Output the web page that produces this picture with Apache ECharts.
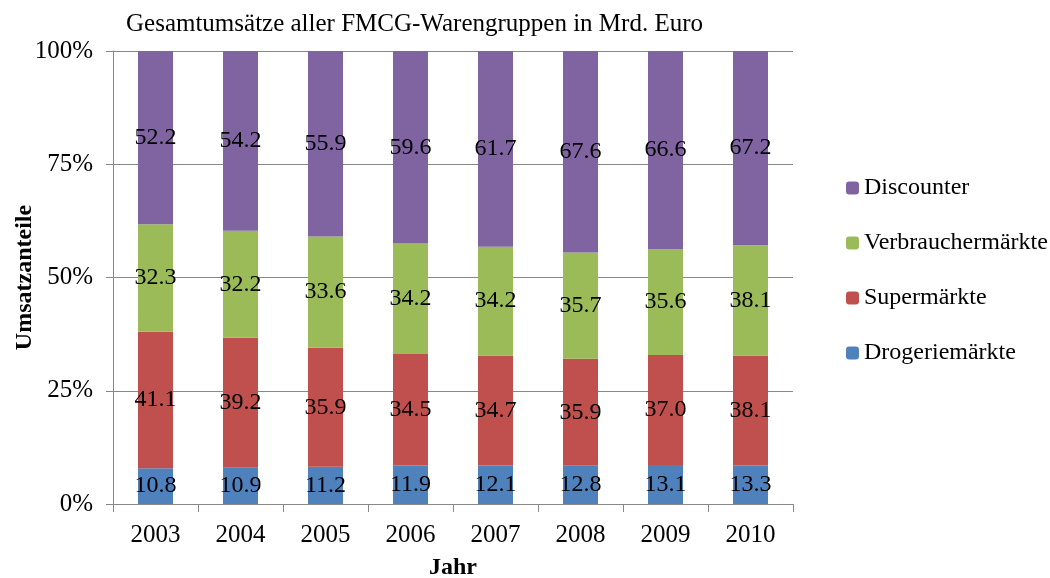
<!DOCTYPE html>
<html><head><meta charset="utf-8">
<script src="https://cdn.jsdelivr.net/npm/echarts@6/dist/echarts.min.js"></script>
<style>html,body{margin:0;padding:0;background:#fff}#c{width:1050px;height:578px}</style>
</head><body><div id="c"></div>
<script>
var years = ['2003','2004','2005','2006','2007','2008','2009','2010'];
var drogeriemaerkte = [10.8,10.9,11.2,11.9,12.1,12.8,13.1,13.3];
var supermaerkte = [41.1,39.2,35.9,34.5,34.7,35.9,37.0,38.1];
var verbrauchermaerkte = [32.3,32.2,33.6,34.2,34.2,35.7,35.6,38.1];
var discounter = [52.2,54.2,55.9,59.6,61.7,67.6,66.6,67.2];
var yTicks = ['0%','25%','50%','75%','100%'];

var totals = years.map(function(_, i){return drogeriemaerkte[i]+supermaerkte[i]+verbrauchermaerkte[i]+discounter[i];});
function share(arr){return arr.map(function(v,i){return {value: v/totals[i]*100, raw: v};});}
var font = '"Liberation Serif","Times New Roman",serif';
function mk(name, arr, color){
  return {name:name, type:'bar', stack:'s', barWidth:35, data:share(arr),
    itemStyle:{color:color},
    label:{show:true, position:'inside', fontFamily:font, fontSize:24, color:'#000',
      formatter:function(p){return p.data.raw.toFixed(1);}}};
}
var chart = echarts.init(document.getElementById('c'));
chart.setOption({
  animation:false,
  title:{text:'Gesamtumsätze aller FMCG-Warengruppen in Mrd. Euro', left:121, top:7,
    textStyle:{fontFamily:font, fontSize:25, fontWeight:'normal', color:'#000'}},
  grid:{left:113, right:257, top:51, bottom:74, containLabel:false, outerBoundsMode:'none'},
  legend:{orient:'vertical', left:841, top:171, itemWidth:13, itemHeight:13, itemGap:31,
    data:['Discounter','Verbrauchermärkte','Supermärkte','Drogeriemärkte'],
    textStyle:{fontFamily:font, fontSize:24, color:'#000'}},
  xAxis:{type:'category', data:years, name:'Jahr', nameLocation:'middle', nameGap:52, nameMoveOverlap:false,
    nameTextStyle:{fontFamily:font, fontSize:24, fontWeight:'bold', color:'#000'},
    axisLine:{lineStyle:{color:'#888'}},
    axisTick:{show:true, length:8, lineStyle:{color:'#888'}},
    axisLabel:{fontFamily:font, fontSize:25, color:'#000', margin:19}},
  yAxis:{type:'value', min:0, max:100, interval:25, name:'Umsatzanteile', nameLocation:'middle', nameGap:76, nameMoveOverlap:false,
    nameTextStyle:{fontFamily:font, fontSize:24, fontWeight:'bold', color:'#000'},
    axisLine:{show:true, lineStyle:{color:'#888'}},
    axisTick:{show:true, length:7, lineStyle:{color:'#888'}},
    splitLine:{lineStyle:{color:'#888'}},
    axisLabel:{fontFamily:font, fontSize:25, color:'#000', margin:20,
      formatter:function(v){return yTicks[Math.round(v/25)];}}},
  series:[
    mk('Drogeriemärkte', drogeriemaerkte, '#4F81BD'),
    mk('Supermärkte', supermaerkte, '#C0504D'),
    mk('Verbrauchermärkte', verbrauchermaerkte, '#9BBB59'),
    mk('Discounter', discounter, '#8064A2')
  ]
});
</script></body></html>
